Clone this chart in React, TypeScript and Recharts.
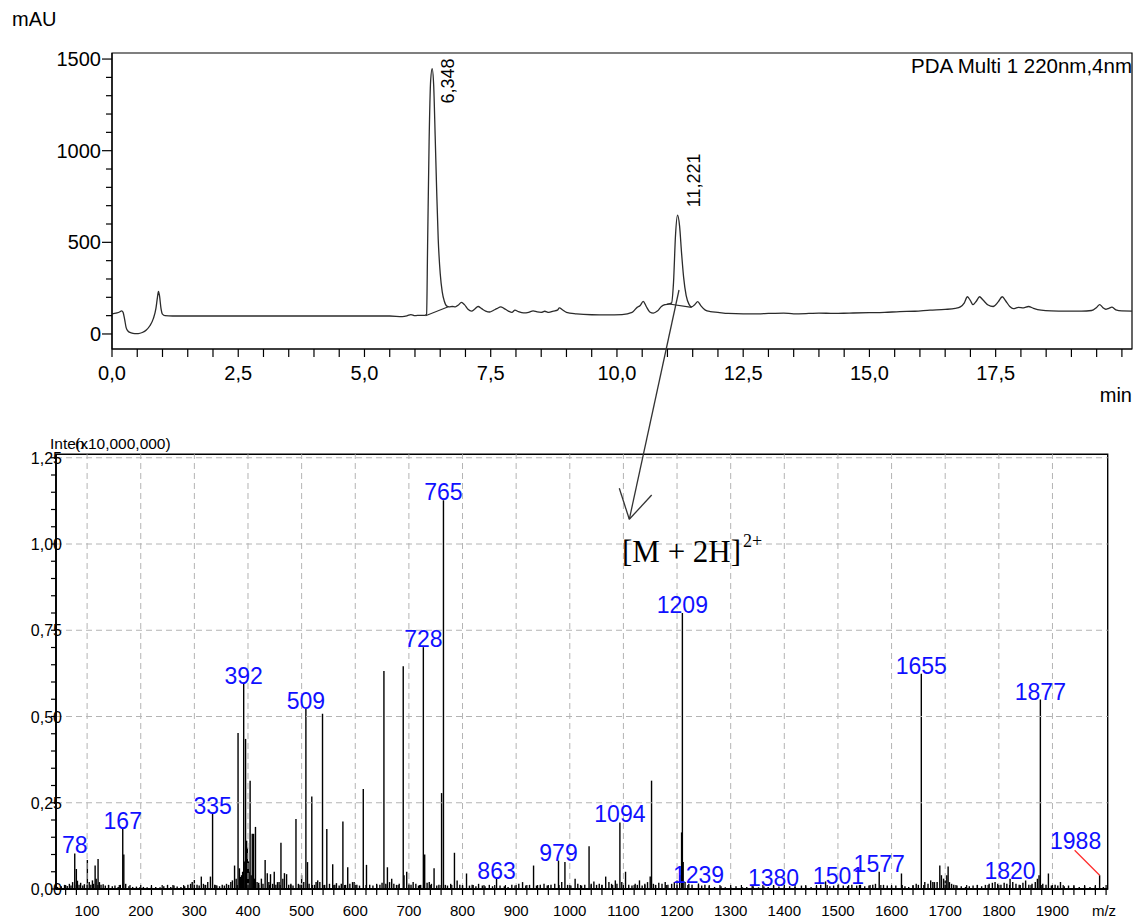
import React from 'react';
import {
  LineChart,
  Line,
  BarChart,
  Bar,
  XAxis,
  YAxis,
  ReferenceArea,
  ReferenceLine,
  ReferenceDot,
  LabelList,
} from 'recharts';

const FONT = '"Liberation Sans", Arial, Helvetica, sans-serif';
const SERIF = '"Liberation Serif", "Times New Roman", serif';

// ---- chromatogram (time in min, absorbance in mAU) ----
const chromatogram: [number, number][] = [
  [0.0, 110], [0.05, 112], [0.1, 115], [0.15, 120], [0.19, 126], [0.22, 118], [0.25, 80],
  [0.28, 35], [0.32, 15], [0.38, 6], [0.45, 2], [0.52, 2], [0.6, 8], [0.68, 22], [0.75, 45],
  [0.82, 85], [0.87, 140], [0.9, 200], [0.92, 232], [0.94, 210], [0.97, 140], [1.0, 108],
  [1.05, 100], [1.2, 98], [1.5, 98], [2.0, 98], [2.5, 98], [3.0, 98], [3.5, 98], [4.0, 98],
  [4.5, 98], [5.0, 98], [5.5, 98], [5.75, 95], [5.85, 100], [5.92, 106], [6.0, 100],
  [6.1, 102], [6.2, 102], [6.23, 108], [6.25, 480], [6.28, 1050], [6.31, 1380], [6.34, 1448],
  [6.37, 1360], [6.4, 1080], [6.43, 780], [6.46, 520], [6.5, 330], [6.54, 230], [6.58, 180],
  [6.63, 152], [6.68, 148], [6.74, 150], [6.8, 148], [6.86, 158], [6.92, 172], [6.98, 160],
  [7.05, 135], [7.12, 125], [7.18, 135], [7.25, 150], [7.32, 138], [7.4, 125], [7.48, 120],
  [7.55, 128], [7.62, 138], [7.7, 148], [7.76, 140], [7.85, 125], [7.92, 118], [7.98, 130],
  [8.05, 122], [8.15, 115], [8.25, 118], [8.34, 126], [8.42, 120], [8.5, 118], [8.57, 124],
  [8.65, 118], [8.74, 125], [8.82, 130], [8.86, 142], [8.92, 132], [9.0, 118], [9.2, 110],
  [9.5, 105], [9.8, 104], [10.1, 106], [10.3, 118], [10.4, 145], [10.46, 155], [10.52, 178],
  [10.58, 150], [10.65, 120], [10.72, 114], [10.8, 125], [10.88, 150], [10.95, 160],
  [11.02, 163], [11.08, 168], [11.12, 280], [11.16, 540], [11.2, 648], [11.24, 590],
  [11.28, 440], [11.32, 310], [11.37, 210], [11.43, 160], [11.48, 148], [11.54, 160],
  [11.6, 176], [11.66, 155], [11.75, 130], [11.85, 122], [12.0, 118], [12.2, 112], [12.5, 110],
  [12.8, 110], [13.0, 112], [13.3, 114], [13.5, 110], [13.8, 112], [14.0, 114], [14.3, 112],
  [14.6, 114], [15.0, 116], [15.3, 118], [15.6, 122], [15.9, 124], [16.2, 130], [16.5, 134],
  [16.7, 140], [16.8, 148], [16.88, 170], [16.94, 203], [17.0, 182], [17.05, 160],
  [17.12, 180], [17.18, 203], [17.25, 185], [17.35, 158], [17.45, 150], [17.55, 175],
  [17.63, 203], [17.7, 180], [17.78, 150], [17.85, 138], [17.95, 145], [18.05, 142],
  [18.15, 150], [18.25, 140], [18.4, 130], [18.6, 126], [18.9, 125], [19.2, 125], [19.4, 128],
  [19.5, 145], [19.56, 160], [19.62, 145], [19.68, 135], [19.74, 140], [19.8, 146],
  [19.88, 132], [20.0, 126], [20.2, 125],
];

// integration baselines drawn under the two integrated peaks
const peakBaselines: [number, number][][] = [
  [[6.21, 100], [6.66, 149]],
  [[11.0, 165], [11.48, 145]],
];

const chromPeaks = [
  { t: 6.348, mAU: 1448, text: '6,348' },
  { t: 11.221, mAU: 648, text: '11,221' },
];

const topXLabels = [0, 2.5, 5, 7.5, 10, 12.5, 15, 17.5];
const topYLabels = [0, 500, 1000, 1500];

// ---- mass spectrum (m/z, intensity x10,000,000) ----
const labelledPeaks: [number, number, string][] = [
  [77, 0.103, '78'], [166.5, 0.174, '167'], [334, 0.218, '335'], [392, 0.595, '392'],
  [508, 0.522, '509'], [727, 0.701, '728'], [764.5, 1.127, '765'], [863.5, 0.03, '863'],
  [979, 0.082, '979'], [1093.5, 0.193, '1094'], [1210, 0.8, '1209'], [1240, 0.016, '1239'],
  [1380, 0.01, '1380'], [1501, 0.014, '1501'], [1577, 0.05, '1577'], [1655.5, 0.624, '1655'],
  [1821, 0.03, '1820'], [1877.5, 0.549, '1877'], [1988, 0.04, '1988'],
];

const otherPeaks: [number, number][] = [
  [80, 0.058], [82, 0.024], [100.5, 0.084], [115, 0.068], [117, 0.03], [120.5, 0.087],
  [168.5, 0.1], [300, 0.026], [313, 0.036], [325, 0.02], [330, 0.036], [375, 0.068],
  [381.5, 0.452], [386, 0.035], [395.5, 0.435], [397.5, 0.14], [399, 0.12], [401, 0.08],
  [404, 0.314], [408, 0.16], [410.5, 0.16], [414, 0.18], [425, 0.03], [432, 0.084],
  [436, 0.046], [442, 0.043], [449, 0.05], [455, 0.02], [461.5, 0.134], [468, 0.046],
  [472, 0.043], [489.5, 0.203], [500, 0.04], [511, 0.078], [519, 0.268], [530, 0.025],
  [539, 0.508], [547, 0.174], [558, 0.072], [565, 0.017], [577, 0.196], [586, 0.063],
  [595, 0.02], [615, 0.29], [621, 0.07], [653.5, 0.632], [660, 0.063], [668, 0.03],
  [689.5, 0.646], [691, 0.04], [696, 0.05], [708, 0.02], [729.5, 0.1], [738, 0.02],
  [747, 0.06], [761, 0.278], [785, 0.105], [790, 0.025], [807.5, 0.045], [830, 0.015],
  [932.5, 0.068], [991, 0.078], [1010, 0.03], [1036, 0.124], [1045, 0.022], [1067, 0.036],
  [1104, 0.05], [1130, 0.025], [1150, 0.036], [1152.5, 0.314], [1208.5, 0.164],
  [1211.5, 0.078], [1477, 0.022], [1618.5, 0.045], [1680, 0.02], [1690, 0.068],
  [1693, 0.04], [1703, 0.04], [1705.5, 0.065], [1712, 0.015], [1850, 0.025], [1875, 0.04],
  [1892.5, 0.045], [1915, 0.02],
];

const noisePeaks: [number, number][] = [
  [45, 0.006], [52, 0.008], [58, 0.012], [63, 0.009], [67, 0.015], [70, 0.01], [73, 0.02],
  [85, 0.012], [88, 0.018], [92, 0.01], [95, 0.014], [104, 0.02], [107, 0.012], [110, 0.025],
  [112, 0.015], [123, 0.02], [126, 0.012], [130, 0.014], [134, 0.01], [140, 0.012],
  [147, 0.008], [152, 0.01], [158, 0.006], [162, 0.012], [172, 0.015], [178, 0.008],
  [185, 0.006], [192, 0.007], [198, 0.005], [205, 0.006], [212, 0.005], [220, 0.007],
  [228, 0.006], [236, 0.005], [243, 0.008], [250, 0.012], [256, 0.006], [262, 0.01],
  [268, 0.007], [275, 0.006], [282, 0.008], [288, 0.012], [293, 0.015], [296, 0.02],
  [305, 0.012], [309, 0.01], [317, 0.015], [321, 0.012], [338, 0.012], [342, 0.01],
  [347, 0.008], [352, 0.012], [356, 0.01], [360, 0.015], [364, 0.012], [368, 0.02],
  [371, 0.025], [378, 0.03], [384, 0.06], [388, 0.04], [390, 0.05], [393, 0.08], [402, 0.05],
  [406, 0.04], [412, 0.03], [417, 0.02], [420, 0.018], [428, 0.015], [439, 0.02],
  [446, 0.015], [452, 0.012], [458, 0.02], [465, 0.03], [476, 0.012], [480, 0.015],
  [484, 0.01], [494, 0.015], [497, 0.012], [504, 0.02], [514, 0.015], [524, 0.012],
  [527, 0.02], [534, 0.02], [543, 0.012], [552, 0.015], [562, 0.012], [570, 0.01],
  [574, 0.015], [582, 0.012], [590, 0.015], [598, 0.02], [603, 0.012], [608, 0.01],
  [627, 0.012], [633, 0.01], [640, 0.015], [646, 0.012], [650, 0.018], [657, 0.015],
  [664, 0.02], [672, 0.015], [677, 0.012], [682, 0.015], [700, 0.015], [704, 0.012],
  [713, 0.015], [718, 0.01], [722, 0.012], [734, 0.018], [742, 0.015], [752, 0.01],
  [756, 0.012], [768, 0.012], [772, 0.01], [778, 0.015], [795, 0.012], [800, 0.01],
  [813, 0.01], [818, 0.012], [825, 0.008], [837, 0.01], [842, 0.008], [850, 0.012],
  [856, 0.008], [870, 0.01], [878, 0.008], [885, 0.006], [892, 0.012], [898, 0.01],
  [905, 0.015], [912, 0.02], [918, 0.01], [925, 0.012], [938, 0.01], [945, 0.012],
  [952, 0.015], [958, 0.01], [965, 0.012], [972, 0.015], [985, 0.02], [996, 0.012],
  [1002, 0.01], [1015, 0.015], [1022, 0.01], [1028, 0.012], [1040, 0.015], [1050, 0.012],
  [1055, 0.015], [1060, 0.012], [1073, 0.02], [1078, 0.015], [1085, 0.025], [1088, 0.015],
  [1097, 0.02], [1110, 0.012], [1116, 0.01], [1122, 0.015], [1126, 0.012], [1135, 0.01],
  [1140, 0.015], [1145, 0.02], [1156, 0.015], [1160, 0.012], [1166, 0.018], [1172, 0.015],
  [1178, 0.02], [1183, 0.012], [1190, 0.015], [1195, 0.02], [1200, 0.025], [1205, 0.04],
  [1215, 0.02], [1222, 0.015], [1228, 0.012], [1246, 0.01], [1252, 0.012], [1260, 0.008],
  [1270, 0.006], [1282, 0.008], [1290, 0.005], [1300, 0.006], [1310, 0.008], [1322, 0.005],
  [1330, 0.006], [1342, 0.008], [1352, 0.005], [1362, 0.007], [1370, 0.006], [1390, 0.007],
  [1400, 0.006], [1410, 0.008], [1420, 0.006], [1432, 0.01], [1440, 0.008], [1450, 0.006],
  [1460, 0.008], [1468, 0.012], [1485, 0.008], [1492, 0.01], [1510, 0.01], [1518, 0.008],
  [1526, 0.012], [1535, 0.01], [1542, 0.012], [1550, 0.008], [1558, 0.01], [1565, 0.012],
  [1570, 0.015], [1585, 0.012], [1592, 0.01], [1600, 0.008], [1608, 0.01], [1625, 0.008],
  [1632, 0.006], [1640, 0.01], [1646, 0.015], [1650, 0.012], [1662, 0.02], [1668, 0.015],
  [1673, 0.025], [1677, 0.02], [1685, 0.02], [1697, 0.03], [1700, 0.025], [1708, 0.02],
  [1716, 0.012], [1722, 0.01], [1730, 0.008], [1738, 0.006], [1745, 0.008], [1752, 0.01],
  [1760, 0.012], [1768, 0.008], [1775, 0.012], [1782, 0.015], [1788, 0.018], [1793, 0.02],
  [1798, 0.015], [1804, 0.012], [1810, 0.018], [1815, 0.015], [1826, 0.02], [1832, 0.015],
  [1838, 0.012], [1845, 0.018], [1856, 0.012], [1862, 0.015], [1868, 0.02], [1872, 0.03],
  [1882, 0.015], [1888, 0.012], [1898, 0.01], [1905, 0.012], [1910, 0.01], [1922, 0.008],
  [1930, 0.01], [1940, 0.008], [1950, 0.006], [1960, 0.008], [1970, 0.006], [1980, 0.008],
  [1995, 0.006],
];

const msXLabels = [100, 200, 300, 400, 500, 600, 700, 800, 900, 1000, 1100, 1200, 1300, 1400, 1500, 1600, 1700, 1800, 1900];
const msYLabels = [0, 0.25, 0.5, 0.75, 1.0, 1.25];

// minor tick positions
const topXTicks: number[] = [];
for (let i = 0; i <= 40; i++) topXTicks.push(i / 2);
const topYTicks: number[] = [];
for (let i = 0; i <= 15; i++) topYTicks.push(i * 100);
const msXTicks: number[] = [];
for (let i = 3; i <= 100; i++) msXTicks.push(i * 20);
const msYTicks: number[] = [];
for (let i = 0; i <= 25; i++) msYTicks.push(Math.round(i * 5) / 100);

const chromData = chromatogram.map(([t, mAU]) => ({ t, mAU }));
const spectrum = [
  ...labelledPeaks.map(([mz, int, label]) => ({ mz, int, label })),
  ...otherPeaks.map(([mz, int]) => ({ mz, int, label: undefined as string | undefined })),
  ...noisePeaks.map(([mz, int]) => ({ mz, int, label: undefined as string | undefined })),
].sort((a, b) => a.mz - b.mz);

const near = (list: number[], v: number) => list.some((l) => Math.abs(l - v) < 1e-6);
const comma = (v: number, digits: number) => v.toFixed(digits).replace('.', ',');

function TopXTick(props: any) {
  const { x, y, payload } = props;
  const v = payload.value as number;
  return (
    <g>
      <line x1={x} x2={x} y1={y} y2={y + 8} stroke="#000" strokeWidth={1.2} />
      {near(topXLabels, v) && (
        <text x={x} y={y + 31} textAnchor="middle" fontSize={20} fontFamily={FONT} fill="#000">
          {comma(v, 1)}
        </text>
      )}
    </g>
  );
}

function TopYTick(props: any) {
  const { x, y, payload } = props;
  const v = payload.value as number;
  const major = near(topYLabels, v);
  return (
    <g>
      <line x1={x - (major ? 10 : 6)} x2={x} y1={y} y2={y} stroke="#000" strokeWidth={1.2} />
      {major && (
        <text x={x - 11} y={y + 7} textAnchor="end" fontSize={20} fontFamily={FONT} fill="#000">
          {v}
        </text>
      )}
    </g>
  );
}

function MsXTick(props: any) {
  const { x, y, payload } = props;
  const v = payload.value as number;
  return (
    <g>
      <line x1={x} x2={x} y1={y - 4} y2={y + 6} stroke="#000" strokeWidth={1.2} />
      {near(msXLabels, v) && (
        <text x={x} y={y + 27} textAnchor="middle" fontSize={15} fontFamily={FONT} fill="#000">
          {v}
        </text>
      )}
    </g>
  );
}

function MsYTick(props: any) {
  const { x, y, payload } = props;
  const v = payload.value as number;
  return (
    <g>
      <line x1={x - 5} x2={x} y1={y} y2={y} stroke="#000" strokeWidth={1.2} />
      {near(msYLabels, v) && (
        <text x={x + 6} y={y + 6} textAnchor="end" fontSize={16} fontFamily={FONT} fill="#000">
          {comma(v, 2)}
        </text>
      )}
    </g>
  );
}

// thin stick centred on the m/z value
function Stick(props: any) {
  const { x, y, width, height } = props;
  if (!height || height <= 0) return null;
  const cx = x + width / 2;
  return <line x1={cx} x2={cx} y1={y} y2={y + height} stroke="#000" strokeWidth={1.4} />;
}

function renderPeakLabel(props: any) {
  const { value } = props;
  if (!value) return null;
  const vb = props.viewBox ?? props;
  const cx = vb.x + vb.width / 2;
  const top = vb.y;
  if (value === '1988') {
    return (
      <g>
        <line x1={cx - 25} y1={top - 25} x2={cx} y2={top} stroke="#ff2a2a" strokeWidth={1.3} />
        <text x={cx - 24} y={top - 26} textAnchor="middle" fontSize={23} fontFamily={FONT} fill="#1010ff">
          {value}
        </text>
      </g>
    );
  }
  return (
    <text x={cx} y={top} textAnchor="middle" fontSize={23} fontFamily={FONT} fill="#1010ff">
      {value}
    </text>
  );
}

const chromLabelOffset: Record<string, [number, number]> = {
  '6,348': [21, 35],
  '11,221': [21, -8],
};

function renderChromLabel(text: string) {
  return (props: any) => {
    const vb = props.viewBox;
    const [dx, dy] = chromLabelOffset[text];
    const x = vb.x + vb.width / 2 + dx;
    const y = vb.y + vb.height / 2 + dy;
    return (
      <text x={x} y={y} transform={`rotate(-90, ${x}, ${y})`} fontSize={18} fontFamily={FONT} fill="#000">
        {text}
      </text>
    );
  };
}

export default function App() {
  return (
    <div style={{ position: 'absolute', left: 0, top: 0, width: 1142, height: 921, background: '#fff', fontFamily: FONT }}>
      {/* Chromatogram */}
      <div style={{ position: 'absolute', left: 0, top: 0 }}>
        <LineChart width={1142} height={420} data={chromData} margin={{ top: 53, right: 10, bottom: 0, left: 0 }}>
          <XAxis
            type="number"
            dataKey="t"
            domain={[0, 20.2]}
            allowDataOverflow
            ticks={topXTicks}
            interval={0}
            tickSize={0}
            tickMargin={0}
            tickLine={false}
            tick={<TopXTick />}
            axisLine={{ stroke: '#000', strokeWidth: 1.2 }}
            height={71}
          />
          <YAxis
            type="number"
            domain={[-82, 1533]}
            allowDataOverflow
            ticks={topYTicks}
            interval={0}
            tickSize={0}
            tickMargin={0}
            tickLine={false}
            tick={<TopYTick />}
            axisLine={{ stroke: '#000', strokeWidth: 1.2 }}
            width={112}
          />
          <ReferenceArea x1={0} x2={20.2} y1={-82} y2={1533} fill="none" stroke="#000" strokeWidth={1.2} />
          <Line
            type="monotone"
            dataKey="mAU"
            stroke="#2b2b2b"
            strokeWidth={1.3}
            dot={false}
            isAnimationActive={false}
          />
          {peakBaselines.map((seg, i) => (
            <Line
              key={`bl-${i}`}
              data={seg.map(([t, mAU]) => ({ t, mAU }))}
              dataKey="mAU"
              type="linear"
              stroke="#2b2b2b"
              strokeWidth={1.1}
              dot={false}
              isAnimationActive={false}
            />
          ))}
          {chromPeaks.map((p) => (
            <ReferenceDot
              key={p.text}
              x={p.t}
              y={p.mAU}
              r={0}
              fill="none"
              stroke="none"
              label={renderChromLabel(p.text)}
            />
          ))}
        </LineChart>
      </div>

      {/* Mass spectrum */}
      <div style={{ position: 'absolute', left: 0, top: 420 }}>
        <BarChart width={1142} height={501} data={spectrum} barSize={1.5} margin={{ top: 34.3, right: 34.3, bottom: 0, left: 0 }}>
          <XAxis
            type="number"
            dataKey="mz"
            domain={[42, 2003]}
            allowDataOverflow
            ticks={msXTicks}
            interval={0}
            tickSize={0}
            tickMargin={0}
            tickLine={false}
            tick={<MsXTick />}
            axisLine={{ stroke: '#000', strokeWidth: 2.2 }}
            height={32}
          />
          <YAxis
            type="number"
            domain={[0, 1.26]}
            allowDataOverflow
            ticks={msYTicks}
            interval={0}
            tickSize={0}
            tickMargin={0}
            tickLine={false}
            tick={<MsYTick />}
            axisLine={{ stroke: '#000', strokeWidth: 1.8 }}
            width={56}
          />
          {msXLabels.map((v) => (
            <ReferenceLine key={`gx-${v}`} x={v} stroke="#b4b4b4" strokeDasharray="6 4" strokeWidth={1} />
          ))}
          {msYLabels.filter((v) => v > 0).map((v) => (
            <ReferenceLine key={`gy-${v}`} y={v} stroke="#b4b4b4" strokeDasharray="6 4" strokeWidth={1} />
          ))}
          <ReferenceArea x1={42} x2={2003} y1={0} y2={1.26} fill="none" stroke="#000" strokeWidth={1.4} />
          <Bar dataKey="int" shape={<Stick />} isAnimationActive={false}>
            <LabelList dataKey="label" content={renderPeakLabel} />
          </Bar>
        </BarChart>
      </div>

      {/* Text and arrow annotations */}
      <svg
        width={1142}
        height={921}
        style={{ position: 'absolute', left: 0, top: 0, pointerEvents: 'none' }}
      >
        <text x={12} y={26} fontSize={20} fontFamily={FONT} fill="#000">mAU</text>
        <text x={1132} y={402} fontSize={20} fontFamily={FONT} fill="#000" textAnchor="end">min</text>
        <text x={1132} y={73} fontSize={20.5} fontFamily={FONT} fill="#000" textAnchor="end">PDA Multi 1 220nm,4nm</text>
        <text x={50} y={449} fontSize={15.5} fontFamily={FONT} fill="#000">Inten.</text>
        <text x={75} y={449} fontSize={15.5} fontFamily={FONT} fill="#000">(x10,000,000)</text>
        <text x={1104} y={916} fontSize={15} fontFamily={FONT} fill="#000" textAnchor="middle">m/z</text>

        <line x1={679} y1={290} x2={629.3} y2={519.3} stroke="#333" strokeWidth={1.3} />
        <line x1={619.3} y1={488.3} x2={629.3} y2={519.3} stroke="#333" strokeWidth={1.3} />
        <line x1={651.7} y1={495} x2={629.3} y2={519.3} stroke="#333" strokeWidth={1.3} />
        <text x={622} y={562} fontSize={31} fontFamily={SERIF} fill="#000">[M + 2H]</text>
        <text x={743} y={547} fontSize={18} fontFamily={SERIF} fill="#000">2+</text>
      </svg>
    </div>
  );
}
